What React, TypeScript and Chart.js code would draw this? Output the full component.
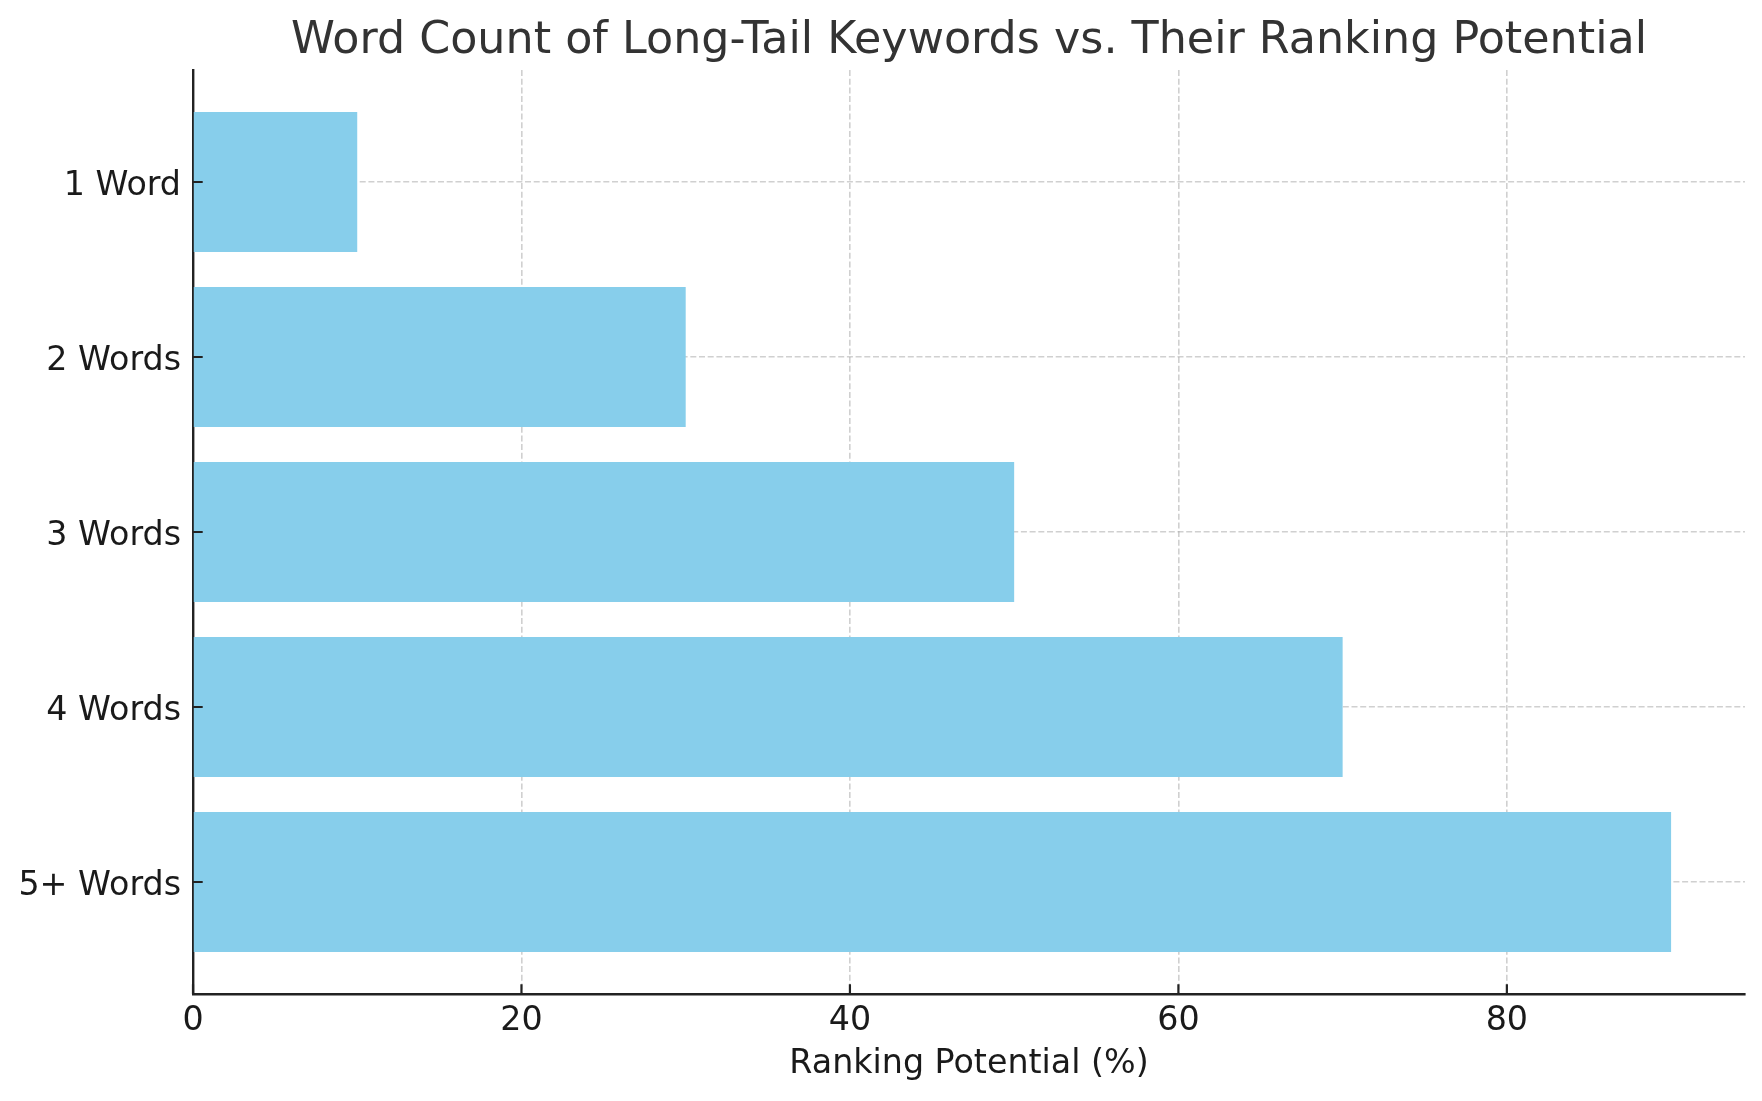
import React, { useEffect, useRef } from "react";
import Chart from "chart.js/auto";

const categories: string[] = ["1 Word", "2 Words", "3 Words", "4 Words", "5+ Words"];
const rankingPotential: number[] = [10, 30, 50, 70, 90];
const xTickValues: number[] = [0, 20, 40, 60, 80];
const chartTitle = "Word Count of Long-Tail Keywords vs. Their Ranking Potential";
const xAxisTitle = "Ranking Potential (%)";

const W = 1762;
const H = 1101;
const FONT = "'DejaVu Sans', sans-serif";
const TICK_SIZE = 33.3;
const TITLE_SIZE = 44.4;

const inwardTicks = {
  id: "inwardTicks",
  afterDraw(chart: any) {
    const { ctx, chartArea } = chart;
    const xs = chart.scales.x;
    const ys = chart.scales.y;
    const len = 9.7;
    ctx.save();
    ctx.strokeStyle = "#222222";
    ctx.lineWidth = 2.2;
    ctx.beginPath();
    xs.ticks.forEach((t: any) => {
      const px = xs.getPixelForValue(t.value);
      ctx.moveTo(px, chartArea.bottom);
      ctx.lineTo(px, chartArea.bottom - len);
    });
    ys.ticks.forEach((t: any) => {
      const py = ys.getPixelForValue(t.value);
      ctx.moveTo(chartArea.left, py);
      ctx.lineTo(chartArea.left + len, py);
    });
    ctx.stroke();
    ctx.restore();
  },
};

export default function App() {
  const ref = useRef<HTMLCanvasElement | null>(null);

  useEffect(() => {
    if (!ref.current) return;
    const n = categories.length;
    const yMin = -0.4 - 0.05 * (n - 1 + 0.8);
    const yMax = n - 1 + 0.4 + 0.05 * (n - 1 + 0.8);
    const xMax = Math.max(...rankingPotential) * 1.05;

    const gridStyle = {
      color: "rgba(170,170,170,0.55)",
      lineWidth: 1.6,
      drawTicks: false,
      offset: false,
    };

    const chart = new Chart(ref.current, {
      type: "bar",
      data: {
        datasets: [
          {
            data: rankingPotential.map((v, i) => ({ x: v, y: i })),
            backgroundColor: "#87CEEB",
            borderWidth: 0,
            categoryPercentage: 1,
            barPercentage: 0.8,
          },
        ],
      },
      options: {
        indexAxis: "y",
        animation: false,
        responsive: false,
        maintainAspectRatio: false,
        layout: { padding: { left: 0, right: 17, top: 0, bottom: 0 } },
        plugins: {
          legend: { display: false },
          tooltip: { enabled: false },
          title: {
            display: true,
            text: chartTitle,
            fullSize: false,
            color: "#333333",
            font: { family: FONT, size: TITLE_SIZE, weight: "normal" },
            padding: { top: 15, bottom: 1.7 },
          },
        },
        scales: {
          x: {
            type: "linear",
            position: "bottom",
            min: 0,
            max: xMax,
            z: 1,
            grid: gridStyle,
            border: { display: true, color: "#222222", width: 2.4, dash: [6, 2.7] },
            afterBuildTicks: (scale: any) => {
              scale.ticks = xTickValues.map((v) => ({ value: v }));
            },
            afterFit: (scale: any) => {
              scale.height = 107;
            },
            ticks: {
              color: "#1a1a1a",
              padding: 7,
              font: { family: FONT, size: TICK_SIZE },
              maxRotation: 0,
              autoSkip: false,
            },
            title: {
              display: true,
              text: xAxisTitle,
              color: "#1a1a1a",
              font: { family: FONT, size: TICK_SIZE },
              padding: { top: 0, bottom: 16.5 },
            },
          },
          y: {
            type: "linear",
            position: "left",
            min: yMin,
            max: yMax,
            reverse: true,
            offset: false,
            z: 1,
            grid: gridStyle,
            border: { display: true, color: "#222222", width: 2.4, dash: [6, 2.7] },
            afterBuildTicks: (scale: any) => {
              scale.ticks = categories.map((_, i) => ({ value: i }));
            },
            afterFit: (scale: any) => {
              scale.width = 193;
            },
            ticks: {
              color: "#1a1a1a",
              padding: 12,
              labelOffset: 4.5,
              font: { family: FONT, size: TICK_SIZE },
              autoSkip: false,
              callback: (value: any) => {
                const idx = Math.round(Number(value));
                return categories[idx] ?? "";
              },
            },
          },
        },
      },
      plugins: [inwardTicks],
    } as any);

    return () => chart.destroy();
  }, []);

  return (
    <div
      style={{
        position: "absolute",
        left: 0,
        top: 0,
        width: W,
        height: H,
        background: "#ffffff",
      }}
    >
      <canvas ref={ref} width={W} height={H} style={{ width: W, height: H, display: "block" }} />
    </div>
  );
}
